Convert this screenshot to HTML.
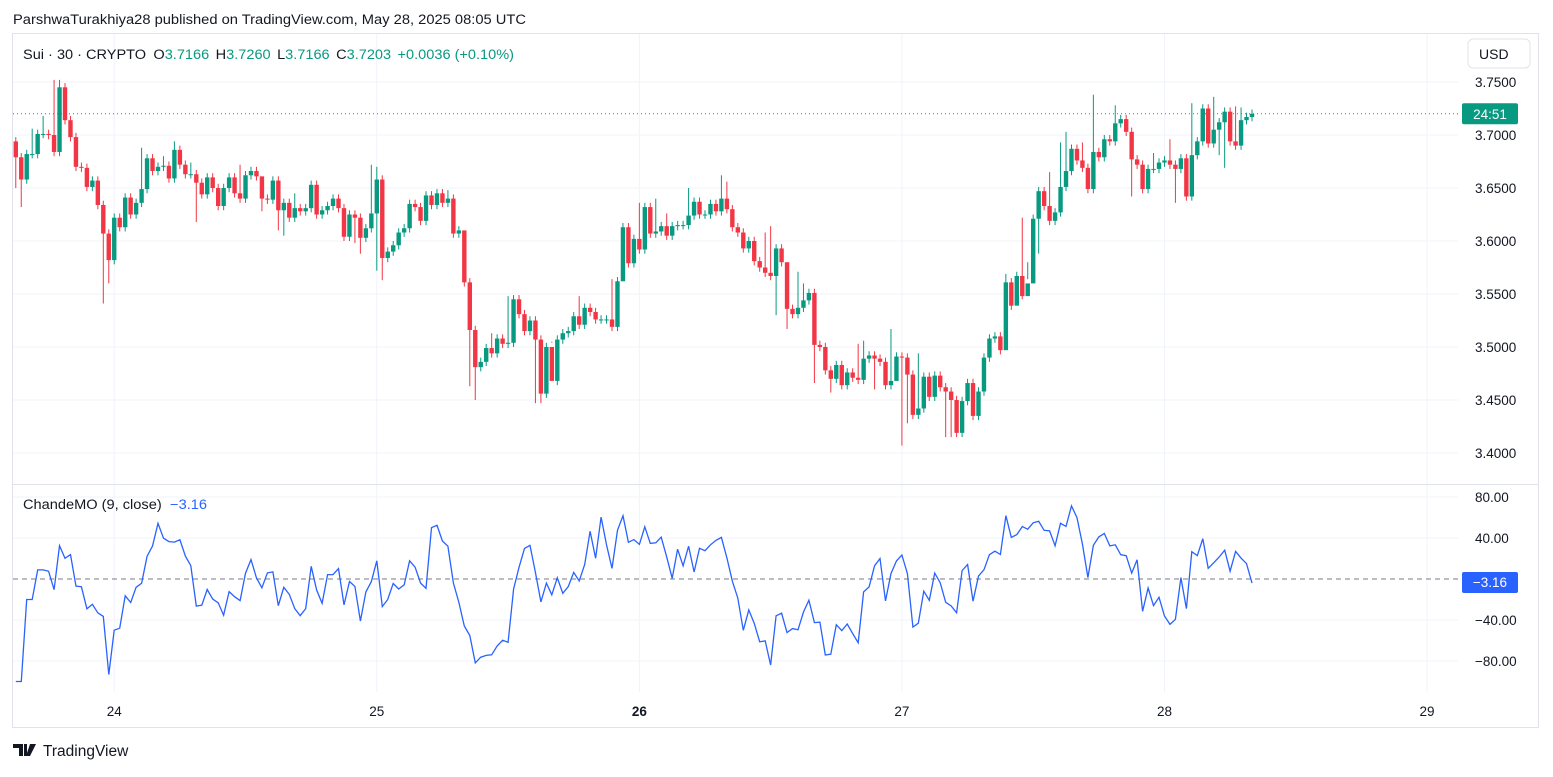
<!DOCTYPE html>
<html><head><meta charset="utf-8"><style>
body{margin:0;width:1553px;height:772px;background:#fff;overflow:hidden;font-family:"Liberation Sans",sans-serif;}
svg text{font-family:"Liberation Sans",sans-serif;}
</style></head><body>
<svg id="chart" width="1553" height="772" viewBox="0 0 1553 772" xmlns="http://www.w3.org/2000/svg">
<text x="13" y="24" font-size="13.5" fill="#131722" textLength="513" lengthAdjust="spacingAndGlyphs">ParshwaTurakhiya28 published on TradingView.com, May 28, 2025 08:05 UTC</text>
<rect x="12.5" y="33.5" width="1526" height="694" fill="none" stroke="#e0e3eb" stroke-width="1"/>
<g id="grid"></g>
<line x1="13" x2="1538" y1="484.5" y2="484.5" stroke="#e0e3eb"/>
<g id="candles"></g>
<g id="cmo"></g>
<g id="axes"></g>
<text x="23" y="59" font-size="13.5" fill="#131722" textLength="491" lengthAdjust="spacingAndGlyphs">Sui · 30 · CRYPTO <tspan dx="3">O</tspan><tspan fill="#089981">3.7166</tspan><tspan dx="6">H</tspan><tspan fill="#089981">3.7260</tspan><tspan dx="6">L</tspan><tspan fill="#089981">3.7166</tspan><tspan dx="6">C</tspan><tspan fill="#089981">3.7203</tspan><tspan dx="6" fill="#089981">+0.0036 (+0.10%)</tspan></text>
<text x="23" y="509" font-size="13.5" fill="#131722" textLength="184" lengthAdjust="spacingAndGlyphs">ChandeMO (9, close) <tspan dx="4" fill="#2962ff">−3.16</tspan></text>
<g><rect x="1468" y="39" width="62" height="29" rx="5" fill="#fff" stroke="#e0e3eb"/><text x="1479" y="59" font-size="14" fill="#131722">USD</text></g>
<g>
<path d="M13 744h10v12h-4v-8h-6z M24 744h3v12h-3z M30 744h6l-6 12h-4z" fill="#131722"/>
<text x="43" y="756" font-size="15.5" fill="#131722">TradingView</text></g>
</svg>
<script>
const closes=[3.694,3.679,3.658,3.682,3.682,3.701,3.701,3.700,3.684,3.745,3.714,3.698,3.670,3.669,3.651,3.657,3.634,3.607,3.582,3.622,3.613,3.641,3.625,3.636,3.649,3.678,3.666,3.670,3.671,3.659,3.686,3.672,3.663,3.663,3.655,3.644,3.660,3.650,3.633,3.650,3.660,3.645,3.640,3.662,3.666,3.661,3.640,3.639,3.657,3.629,3.636,3.622,3.631,3.628,3.631,3.653,3.625,3.629,3.633,3.640,3.631,3.604,3.625,3.622,3.603,3.612,3.626,3.658,3.584,3.590,3.596,3.608,3.612,3.635,3.632,3.619,3.643,3.634,3.645,3.636,3.640,3.607,3.610,3.561,3.516,3.481,3.486,3.499,3.494,3.508,3.503,3.504,3.545,3.531,3.515,3.525,3.507,3.456,3.500,3.468,3.507,3.513,3.515,3.529,3.521,3.537,3.533,3.526,3.526,3.526,3.519,3.562,3.613,3.579,3.602,3.592,3.632,3.607,3.609,3.614,3.605,3.614,3.615,3.615,3.624,3.637,3.625,3.625,3.635,3.628,3.640,3.630,3.613,3.608,3.593,3.600,3.581,3.575,3.570,3.567,3.593,3.580,3.536,3.531,3.537,3.544,3.551,3.502,3.500,3.478,3.470,3.483,3.464,3.476,3.471,3.469,3.489,3.492,3.489,3.486,3.464,3.468,3.491,3.490,3.474,3.436,3.442,3.472,3.453,3.473,3.462,3.458,3.450,3.419,3.449,3.466,3.435,3.458,3.490,3.508,3.510,3.497,3.561,3.539,3.567,3.548,3.560,3.621,3.647,3.633,3.619,3.627,3.651,3.666,3.687,3.676,3.669,3.649,3.684,3.679,3.696,3.694,3.711,3.715,3.703,3.677,3.672,3.649,3.668,3.668,3.674,3.676,3.672,3.668,3.678,3.642,3.681,3.694,3.725,3.692,3.705,3.712,3.722,3.694,3.690,3.714,3.717,3.720];
const wickHi={9:3.752,10:3.752,7:3.718,5:3.706,25:3.688,29:3.680,31:3.694,34:3.674,43:3.672,47:3.660,53:3.645,67:3.672,68:3.670,81:3.648,84:3.573,89:3.513,92:3.548,93:3.549,105:3.548,111:3.564,116:3.636,119:3.640,121:3.626,125:3.650,131:3.662,132:3.656,139:3.608,140:3.614,143:3.563,145:3.571,146:3.560,156:3.503,157:3.506,162:3.517,167:3.494,183:3.569,186:3.622,191:3.665,193:3.693,194:3.703,197:3.693,199:3.738,203:3.728,210:3.683,213:3.696,217:3.730,221:3.736,225:3.727,226:3.726};
const wickLo={1:3.671,2:3.650,3:3.632,18:3.541,19:3.560,35:3.618,47:3.628,50:3.610,51:3.605,64:3.598,65:3.588,68:3.572,69:3.563,85:3.463,86:3.450,97:3.447,98:3.447,100:3.505,113:3.580,141:3.530,143:3.517,148:3.466,151:3.457,159:3.460,163:3.470,164:3.407,165:3.428,172:3.415,173:3.415,183:3.530,185:3.541,186:3.545,187:3.580,188:3.596,189:3.588,206:3.642,214:3.636,222:3.681,223:3.669};
const priceTicks=[3.75,3.70,3.65,3.60,3.55,3.50,3.45,3.40];
const cmoTicks=[80,40,0,-40,-80];
const dayLabels=["24","25","26","27","28","29"];
const dayIndex=[20,68,116,164,212,260];

const NS="http://www.w3.org/2000/svg";
function mk(tag,attrs,parent){const e=document.createElementNS(NS,tag);for(const k in attrs)e.setAttribute(k,attrs[k]);parent.appendChild(e);return e;}
const step=5.47, lastX=1252, n=closes.length;
const xOf=i=>lastX-(n-1-i)*step;
const yP=p=>82+(3.75-p)*1060;
const yC=v=>579-v*41/40;
const grid=document.getElementById('grid'),cg=document.getElementById('candles'),mg=document.getElementById('cmo'),ax=document.getElementById('axes');

priceTicks.forEach(p=>{
 const l=mk('line',{x1:13,x2:1458,y1:yP(p),y2:yP(p),stroke:'#f0f3fa'},grid);
 
 
 const t=mk('text',{x:1475,y:yP(p)+5,'font-size':13.5,fill:'#131722'},ax);t.textContent=p.toFixed(4);
 
 
});
cmoTicks.forEach(v=>{
 if(v!==0){const l=mk('line',{x1:13,x2:1458,y1:yC(v),y2:yC(v),stroke:'#f0f3fa'},grid);
 
 
 const t=mk('text',{x:1475,y:yC(v)+5,'font-size':13.5,fill:'#131722'},ax);t.textContent=(v<0?'−':'')+Math.abs(v).toFixed(2);
 
 }
});
dayLabels.forEach((d,k)=>{
 const x=xOf(dayIndex[k]-1);
 const l=mk('line',{x1:x,x2:x,y1:34,y2:692,stroke:'#f0f3fa'},grid);
 
 
 const t=mk('text',{x:x,y:716,'font-size':13.5,fill:'#131722','text-anchor':'middle','font-weight':d==='26'?'bold':'normal'},ax);t.textContent=d;
 
 
});
for(let i=0;i<n;i++){
 const o=i===0?3.694+0.016:closes[i-1], c=closes[i];
 const up=c>=o, col=up?'#089981':'#f23645';
 const hi=wickHi[i+1]!==undefined?wickHi[i+1]:Math.max(o,c)+0.004;
 const lo=wickLo[i+1]!==undefined?wickLo[i+1]:Math.min(o,c)-0.004;
 const x=xOf(i);
 if(x<14)continue;
 const g=mk('g',{},cg);
 
 
 mk('line',{x1:x,x2:x,y1:yP(hi),y2:yP(lo),stroke:col,'stroke-width':1},g);
 const yt=yP(Math.max(o,c)),yb=yP(Math.min(o,c));
 mk('rect',{x:x-2.2,y:yt,width:4.4,height:Math.max(1,yb-yt),fill:col},g);
}
const yl=yP(closes[n-1]);
mk('line',{x1:13,x2:1460,y1:yl,y2:yl,stroke:'#089981','stroke-dasharray':'1 3'},ax);
const lb=mk('rect',{x:1462,y:yl-10.5,width:56,height:21,rx:2,fill:'#089981'},ax);


const lt=mk('text',{x:1490,y:yl+5,'font-size':13.5,fill:'#fff','text-anchor':'middle'},ax);lt.textContent='24:51';
const z=mk('line',{x1:13,x2:1458,y1:yC(0),y2:yC(0),stroke:'#787b86','stroke-dasharray':'5 4'},mg);


const cmo=[];
for(let i=1;i<n;i++){let su=0,sd=0;for(let j=Math.max(1,i-8);j<=i;j++){const d=closes[j]-closes[j-1];if(d>0)su+=d;else sd-=d;}cmo.push(su+sd>0?100*(su-sd)/(su+sd):0);}
let d='';let first=true;cmo.forEach((v,k)=>{const x=xOf(k+1);if(x<13)return;d+=(first?'M':'L')+x.toFixed(1)+' '+yC(v).toFixed(1);first=false;});
const pl=mk('path',{d:d,fill:'none',stroke:'#2962ff','stroke-width':1.3},mg);


const cb=mk('rect',{x:1462,y:572,width:56,height:21,rx:2,fill:'#2962ff'},mg);


const ct=mk('text',{x:1490,y:587,'font-size':13.5,fill:'#fff','text-anchor':'middle'},mg);ct.textContent='−3.16';
</script>
</body></html>
